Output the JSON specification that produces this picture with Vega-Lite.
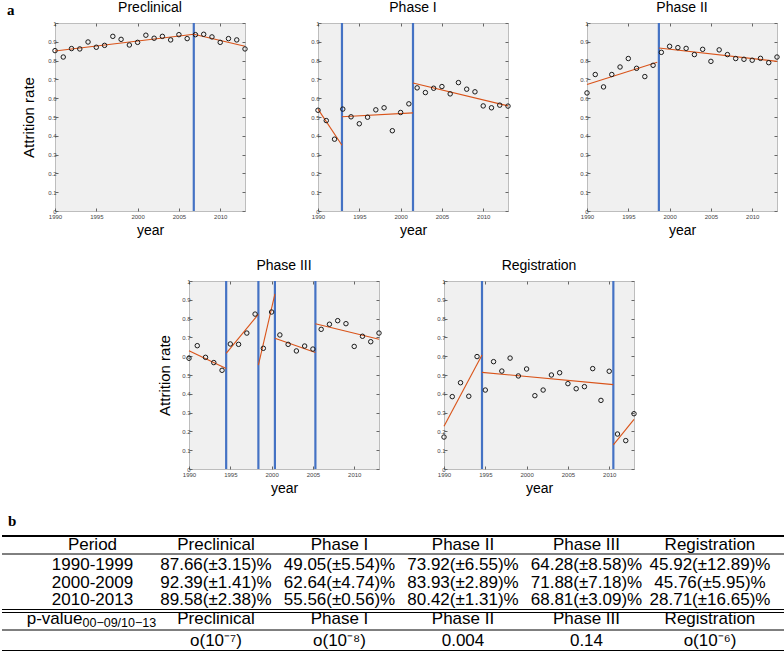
{
  "$schema": "https://vega.github.io/schema/vega-lite/v6.json",
  "padding": {"left": 1, "right": 1, "top": 0, "bottom": 1},
  "background": "white",
  "config": {
    "view": {"stroke": null},
    "font": "Liberation Sans",
    "title": {"fontSize": 14, "fontWeight": "normal", "offset": 5, "font": "Liberation Sans", "color": "#000"},
    "axis": {"labelFontSize": 6, "labelColor": "#444", "tickColor": "#666", "tickSize": -3, "domain": false, "grid": false, "titleFontWeight": "normal", "titleColor": "#000", "labelPadding": 2, "labelFlush": false, "titleFont": "Liberation Sans", "labelFont": "Liberation Sans"},
    "axisBottom": {"labelPadding": 5}
  },
  "datasets": {
    "pts": [
      {"p":"Preclinical","year":1990,"rate":0.853},{"p":"Preclinical","year":1991,"rate":0.819},{"p":"Preclinical","year":1992,"rate":0.864},{"p":"Preclinical","year":1993,"rate":0.862},{"p":"Preclinical","year":1994,"rate":0.899},{"p":"Preclinical","year":1995,"rate":0.871},{"p":"Preclinical","year":1996,"rate":0.881},{"p":"Preclinical","year":1997,"rate":0.929},{"p":"Preclinical","year":1998,"rate":0.913},{"p":"Preclinical","year":1999,"rate":0.883},{"p":"Preclinical","year":2000,"rate":0.897},{"p":"Preclinical","year":2001,"rate":0.935},{"p":"Preclinical","year":2002,"rate":0.919},{"p":"Preclinical","year":2003,"rate":0.929},{"p":"Preclinical","year":2004,"rate":0.910},{"p":"Preclinical","year":2005,"rate":0.938},{"p":"Preclinical","year":2006,"rate":0.917},{"p":"Preclinical","year":2007,"rate":0.938},{"p":"Preclinical","year":2008,"rate":0.940},{"p":"Preclinical","year":2009,"rate":0.926},{"p":"Preclinical","year":2010,"rate":0.897},{"p":"Preclinical","year":2011,"rate":0.917},{"p":"Preclinical","year":2012,"rate":0.910},{"p":"Preclinical","year":2013,"rate":0.862},
      {"p":"Phase I","year":1990,"rate":0.536},{"p":"Phase I","year":1991,"rate":0.481},{"p":"Phase I","year":1992,"rate":0.382},{"p":"Phase I","year":1993,"rate":0.542},{"p":"Phase I","year":1994,"rate":0.501},{"p":"Phase I","year":1995,"rate":0.464},{"p":"Phase I","year":1996,"rate":0.499},{"p":"Phase I","year":1997,"rate":0.538},{"p":"Phase I","year":1998,"rate":0.549},{"p":"Phase I","year":1999,"rate":0.427},{"p":"Phase I","year":2000,"rate":0.524},{"p":"Phase I","year":2001,"rate":0.570},{"p":"Phase I","year":2002,"rate":0.655},{"p":"Phase I","year":2003,"rate":0.630},{"p":"Phase I","year":2004,"rate":0.653},{"p":"Phase I","year":2005,"rate":0.662},{"p":"Phase I","year":2006,"rate":0.623},{"p":"Phase I","year":2007,"rate":0.683},{"p":"Phase I","year":2008,"rate":0.648},{"p":"Phase I","year":2009,"rate":0.634},{"p":"Phase I","year":2010,"rate":0.559},{"p":"Phase I","year":2011,"rate":0.549},{"p":"Phase I","year":2012,"rate":0.563},{"p":"Phase I","year":2013,"rate":0.558},
      {"p":"Phase II","year":1990,"rate":0.628},{"p":"Phase II","year":1991,"rate":0.726},{"p":"Phase II","year":1992,"rate":0.660},{"p":"Phase II","year":1993,"rate":0.726},{"p":"Phase II","year":1994,"rate":0.766},{"p":"Phase II","year":1995,"rate":0.811},{"p":"Phase II","year":1996,"rate":0.759},{"p":"Phase II","year":1997,"rate":0.715},{"p":"Phase II","year":1998,"rate":0.775},{"p":"Phase II","year":1999,"rate":0.844},{"p":"Phase II","year":2000,"rate":0.876},{"p":"Phase II","year":2001,"rate":0.869},{"p":"Phase II","year":2002,"rate":0.865},{"p":"Phase II","year":2003,"rate":0.832},{"p":"Phase II","year":2004,"rate":0.860},{"p":"Phase II","year":2005,"rate":0.796},{"p":"Phase II","year":2006,"rate":0.857},{"p":"Phase II","year":2007,"rate":0.832},{"p":"Phase II","year":2008,"rate":0.811},{"p":"Phase II","year":2009,"rate":0.807},{"p":"Phase II","year":2010,"rate":0.802},{"p":"Phase II","year":2011,"rate":0.812},{"p":"Phase II","year":2012,"rate":0.789},{"p":"Phase II","year":2013,"rate":0.819},
      {"p":"Phase III","year":1990,"rate":0.589},{"p":"Phase III","year":1991,"rate":0.656},{"p":"Phase III","year":1992,"rate":0.594},{"p":"Phase III","year":1993,"rate":0.566},{"p":"Phase III","year":1994,"rate":0.525},{"p":"Phase III","year":1995,"rate":0.665},{"p":"Phase III","year":1996,"rate":0.663},{"p":"Phase III","year":1997,"rate":0.723},{"p":"Phase III","year":1998,"rate":0.824},{"p":"Phase III","year":1999,"rate":0.642},{"p":"Phase III","year":2000,"rate":0.835},{"p":"Phase III","year":2001,"rate":0.713},{"p":"Phase III","year":2002,"rate":0.663},{"p":"Phase III","year":2003,"rate":0.628},{"p":"Phase III","year":2004,"rate":0.654},{"p":"Phase III","year":2005,"rate":0.638},{"p":"Phase III","year":2006,"rate":0.743},{"p":"Phase III","year":2007,"rate":0.770},{"p":"Phase III","year":2008,"rate":0.789},{"p":"Phase III","year":2009,"rate":0.773},{"p":"Phase III","year":2010,"rate":0.652},{"p":"Phase III","year":2011,"rate":0.706},{"p":"Phase III","year":2012,"rate":0.677},{"p":"Phase III","year":2013,"rate":0.723},
      {"p":"Registration","year":1990,"rate":0.170},{"p":"Registration","year":1991,"rate":0.385},{"p":"Registration","year":1992,"rate":0.459},{"p":"Registration","year":1993,"rate":0.387},{"p":"Registration","year":1994,"rate":0.598},{"p":"Registration","year":1995,"rate":0.420},{"p":"Registration","year":1996,"rate":0.571},{"p":"Registration","year":1997,"rate":0.521},{"p":"Registration","year":1998,"rate":0.590},{"p":"Registration","year":1999,"rate":0.495},{"p":"Registration","year":2000,"rate":0.532},{"p":"Registration","year":2001,"rate":0.390},{"p":"Registration","year":2002,"rate":0.420},{"p":"Registration","year":2003,"rate":0.500},{"p":"Registration","year":2004,"rate":0.512},{"p":"Registration","year":2005,"rate":0.454},{"p":"Registration","year":2006,"rate":0.427},{"p":"Registration","year":2007,"rate":0.438},{"p":"Registration","year":2008,"rate":0.534},{"p":"Registration","year":2009,"rate":0.365},{"p":"Registration","year":2010,"rate":0.520},{"p":"Registration","year":2011,"rate":0.186},{"p":"Registration","year":2012,"rate":0.151},{"p":"Registration","year":2013,"rate":0.294}
    ],
    "fits": [
      {"p":"Preclinical","seg":1,"year":1990,"rate":0.851},{"p":"Preclinical","seg":1,"year":2006.8,"rate":0.940},
      {"p":"Preclinical","seg":2,"year":2006.8,"rate":0.940},{"p":"Preclinical","seg":2,"year":2013,"rate":0.876},
      {"p":"Phase I","seg":1,"year":1990,"rate":0.542},{"p":"Phase I","seg":1,"year":1992.9,"rate":0.350},
      {"p":"Phase I","seg":2,"year":1992.9,"rate":0.501},{"p":"Phase I","seg":2,"year":2001.5,"rate":0.522},
      {"p":"Phase I","seg":3,"year":2001.5,"rate":0.681},{"p":"Phase I","seg":3,"year":2013,"rate":0.559},
      {"p":"Phase II","seg":1,"year":1990,"rate":0.673},{"p":"Phase II","seg":1,"year":1998.5,"rate":0.791},
      {"p":"Phase II","seg":2,"year":1998.7,"rate":0.867},{"p":"Phase II","seg":2,"year":2013,"rate":0.796},
      {"p":"Phase III","seg":1,"year":1990,"rate":0.629},{"p":"Phase III","seg":1,"year":1994.5,"rate":0.535},
      {"p":"Phase III","seg":2,"year":1994.5,"rate":0.615},{"p":"Phase III","seg":2,"year":1998.4,"rate":0.823},
      {"p":"Phase III","seg":3,"year":1998.4,"rate":0.553},{"p":"Phase III","seg":3,"year":2000.4,"rate":0.931},
      {"p":"Phase III","seg":4,"year":2000.4,"rate":0.695},{"p":"Phase III","seg":4,"year":2005.3,"rate":0.620},
      {"p":"Phase III","seg":5,"year":2005.3,"rate":0.773},{"p":"Phase III","seg":5,"year":2013,"rate":0.690},
      {"p":"Registration","seg":1,"year":1990,"rate":0.227},{"p":"Registration","seg":1,"year":1994.6,"rate":0.606},
      {"p":"Registration","seg":2,"year":1994.6,"rate":0.514},{"p":"Registration","seg":2,"year":2010.5,"rate":0.449},
      {"p":"Registration","seg":3,"year":2010.5,"rate":0.128},{"p":"Registration","seg":3,"year":2013,"rate":0.264}
    ],
    "brk": [
      {"p":"Preclinical","year":2006.8},
      {"p":"Phase I","year":1992.9},{"p":"Phase I","year":2001.5},
      {"p":"Phase II","year":1998.7},
      {"p":"Phase III","year":1994.5},{"p":"Phase III","year":1998.4},{"p":"Phase III","year":2000.4},{"p":"Phase III","year":2005.3},
      {"p":"Registration","year":1994.6},{"p":"Registration","year":2010.5}
    ],
    "tbl": [
      {"row":0,"col":"c0","t":"Period"},{"row":0,"col":"c1","t":"Preclinical"},{"row":0,"col":"c2","t":"Phase I"},{"row":0,"col":"c3","t":"Phase II"},{"row":0,"col":"c4","t":"Phase III"},{"row":0,"col":"c5","t":"Registration"},
      {"row":1,"col":"c0","t":"1990-1999"},{"row":1,"col":"c1","t":"87.66(±3.15)%"},{"row":1,"col":"c2","t":"49.05(±5.54)%"},{"row":1,"col":"c3","t":"73.92(±6.55)%"},{"row":1,"col":"c4","t":"64.28(±8.58)%"},{"row":1,"col":"c5","t":"45.92(±12.89)%"},
      {"row":2,"col":"c0","t":"2000-2009"},{"row":2,"col":"c1","t":"92.39(±1.41)%"},{"row":2,"col":"c2","t":"62.64(±4.74)%"},{"row":2,"col":"c3","t":"83.93(±2.89)%"},{"row":2,"col":"c4","t":"71.88(±7.18)%"},{"row":2,"col":"c5","t":"45.76(±5.95)%"},
      {"row":3,"col":"c0","t":"2010-2013"},{"row":3,"col":"c1","t":"89.58(±2.38)%"},{"row":3,"col":"c2","t":"55.56(±0.56)%"},{"row":3,"col":"c3","t":"80.42(±1.31)%"},{"row":3,"col":"c4","t":"68.81(±3.09)%"},{"row":3,"col":"c5","t":"28.71(±16.65)%"},
      {"row":4,"col":"c1","t":"Preclinical"},{"row":4,"col":"c2","t":"Phase I"},{"row":4,"col":"c3","t":"Phase II"},{"row":4,"col":"c4","t":"Phase III"},{"row":4,"col":"c5","t":"Registration"},
      {"row":5,"col":"c1","t":"o(10⁻⁷)"},{"row":5,"col":"c2","t":"o(10⁻⁸)"},{"row":5,"col":"c3","t":"0.004"},{"row":5,"col":"c4","t":"0.14"},{"row":5,"col":"c5","t":"o(10⁻⁶)"}
    ],
    "pv": [{"row":4,"col":"c0","main":"p-value","sub":"00−09/10−13"}],
    "tlines": [
      {"row":-0.5,"kind":"thick"},{"row":0.5,"kind":"thin"},{"row":3.5,"kind":"double"},{"row":4.5,"kind":"thin"},{"row":5.5,"kind":"thick"}
    ]
  },
  "spacing": 0,
  "vconcat": [
    {
      "bounds": "flush",
      "spacing": 0,
      "hconcat": [
        {"width": 53, "height": 188, "data": {"values": []}, "mark": {"type": "point"},
         "title": {"text": "a", "anchor": "start", "frame": "group", "font": "Liberation Serif", "fontWeight": "bold", "fontSize": 15, "offset": 5, "dx": 5}},
        {
          "width": 190, "height": 188, "title": "Preclinical",
          "view": {"fill": "#f0f0f0", "stroke": "#bdbdbd"},
          "resolve": {"axis": {"x": "independent", "y": "independent"}},
          "layer": [
            {"data": {"name": "brk"}, "transform": [{"filter": "datum.p == 'Preclinical'"}],
             "mark": {"type": "rule", "color": "#4472C4", "strokeWidth": 2.2},
             "encoding": {"x": {"field": "year", "type": "quantitative", "scale": {"domain": [1990, 2013], "nice": false, "zero": false}, "axis": null}}},
            {"data": {"name": "fits"}, "transform": [{"filter": "datum.p == 'Preclinical'"}],
             "mark": {"type": "line", "color": "#D95319", "strokeWidth": 1.1},
             "encoding": {
               "x": {"field": "year", "type": "quantitative", "scale": {"domain": [1990, 2013], "nice": false, "zero": false}, "axis": {"orient": "top", "values": [1990, 1995, 2000, 2005, 2010], "labels": false, "title": null}},
               "y": {"field": "rate", "type": "quantitative", "scale": {"domain": [0, 1], "nice": false}, "axis": {"orient": "right", "values": [0, 0.1, 0.2, 0.3, 0.4, 0.5, 0.6, 0.7, 0.8, 0.9, 1], "labels": false, "title": null}},
               "detail": {"field": "seg", "type": "nominal"}}},
            {"data": {"name": "pts"}, "transform": [{"filter": "datum.p == 'Preclinical'"}],
             "mark": {"type": "point", "shape": "circle", "filled": false, "color": "#1a1a1a", "strokeWidth": 1, "size": 20, "opacity": 1},
             "encoding": {
               "x": {"field": "year", "type": "quantitative", "scale": {"domain": [1990, 2013], "nice": false, "zero": false}, "axis": {"orient": "bottom", "values": [1990, 1995, 2000, 2005, 2010], "format": "d", "title": "year", "titleFontSize": 14, "titlePadding": 4}},
               "y": {"field": "rate", "type": "quantitative", "scale": {"domain": [0, 1], "nice": false}, "axis": {"orient": "left", "values": [0, 0.1, 0.2, 0.3, 0.4, 0.5, 0.6, 0.7, 0.8, 0.9, 1], "format": ".1~f", "title": "Attrition rate", "titleFontSize": 15, "titlePadding": 11}}}}
          ]
        },
        {"width": 73, "height": 188, "data": {"values": []}, "mark": {"type": "point"}},
        {
          "width": 190, "height": 188, "title": "Phase I",
          "view": {"fill": "#f0f0f0", "stroke": "#bdbdbd"},
          "resolve": {"axis": {"x": "independent", "y": "independent"}},
          "layer": [
            {"data": {"name": "brk"}, "transform": [{"filter": "datum.p == 'Phase I'"}],
             "mark": {"type": "rule", "color": "#4472C4", "strokeWidth": 2.2},
             "encoding": {"x": {"field": "year", "type": "quantitative", "scale": {"domain": [1990, 2013], "nice": false, "zero": false}, "axis": null}}},
            {"data": {"name": "fits"}, "transform": [{"filter": "datum.p == 'Phase I'"}],
             "mark": {"type": "line", "color": "#D95319", "strokeWidth": 1.1},
             "encoding": {
               "x": {"field": "year", "type": "quantitative", "scale": {"domain": [1990, 2013], "nice": false, "zero": false}, "axis": {"orient": "top", "values": [1990, 1995, 2000, 2005, 2010], "labels": false, "title": null}},
               "y": {"field": "rate", "type": "quantitative", "scale": {"domain": [0, 1], "nice": false}, "axis": {"orient": "right", "values": [0, 0.1, 0.2, 0.3, 0.4, 0.5, 0.6, 0.7, 0.8, 0.9, 1], "labels": false, "title": null}},
               "detail": {"field": "seg", "type": "nominal"}}},
            {"data": {"name": "pts"}, "transform": [{"filter": "datum.p == 'Phase I'"}],
             "mark": {"type": "point", "shape": "circle", "filled": false, "color": "#1a1a1a", "strokeWidth": 1, "size": 20, "opacity": 1},
             "encoding": {
               "x": {"field": "year", "type": "quantitative", "scale": {"domain": [1990, 2013], "nice": false, "zero": false}, "axis": {"orient": "bottom", "values": [1990, 1995, 2000, 2005, 2010], "format": "d", "title": "year", "titleFontSize": 14, "titlePadding": 4}},
               "y": {"field": "rate", "type": "quantitative", "scale": {"domain": [0, 1], "nice": false}, "axis": {"orient": "left", "values": [0, 0.1, 0.2, 0.3, 0.4, 0.5, 0.6, 0.7, 0.8, 0.9, 1], "format": ".1~f", "title": null}}}}
          ]
        },
        {"width": 79, "height": 188, "data": {"values": []}, "mark": {"type": "point"}},
        {
          "width": 190, "height": 188, "title": "Phase II",
          "view": {"fill": "#f0f0f0", "stroke": "#bdbdbd"},
          "resolve": {"axis": {"x": "independent", "y": "independent"}},
          "layer": [
            {"data": {"name": "brk"}, "transform": [{"filter": "datum.p == 'Phase II'"}],
             "mark": {"type": "rule", "color": "#4472C4", "strokeWidth": 2.2},
             "encoding": {"x": {"field": "year", "type": "quantitative", "scale": {"domain": [1990, 2013], "nice": false, "zero": false}, "axis": null}}},
            {"data": {"name": "fits"}, "transform": [{"filter": "datum.p == 'Phase II'"}],
             "mark": {"type": "line", "color": "#D95319", "strokeWidth": 1.1},
             "encoding": {
               "x": {"field": "year", "type": "quantitative", "scale": {"domain": [1990, 2013], "nice": false, "zero": false}, "axis": {"orient": "top", "values": [1990, 1995, 2000, 2005, 2010], "labels": false, "title": null}},
               "y": {"field": "rate", "type": "quantitative", "scale": {"domain": [0, 1], "nice": false}, "axis": {"orient": "right", "values": [0, 0.1, 0.2, 0.3, 0.4, 0.5, 0.6, 0.7, 0.8, 0.9, 1], "labels": false, "title": null}},
               "detail": {"field": "seg", "type": "nominal"}}},
            {"data": {"name": "pts"}, "transform": [{"filter": "datum.p == 'Phase II'"}],
             "mark": {"type": "point", "shape": "circle", "filled": false, "color": "#1a1a1a", "strokeWidth": 1, "size": 20, "opacity": 1},
             "encoding": {
               "x": {"field": "year", "type": "quantitative", "scale": {"domain": [1990, 2013], "nice": false, "zero": false}, "axis": {"orient": "bottom", "values": [1990, 1995, 2000, 2005, 2010], "format": "d", "title": "year", "titleFontSize": 14, "titlePadding": 4}},
               "y": {"field": "rate", "type": "quantitative", "scale": {"domain": [0, 1], "nice": false}, "axis": {"orient": "left", "values": [0, 0.1, 0.2, 0.3, 0.4, 0.5, 0.6, 0.7, 0.8, 0.9, 1], "format": ".1~f", "title": null}}}}
          ]
        }
      ]
    },
    {"width": 1, "height": 20, "data": {"values": []}, "mark": {"type": "point"}},
    {
      "bounds": "flush",
      "spacing": 0,
      "hconcat": [
        {"width": 187, "height": 188, "data": {"values": []}, "mark": {"type": "point"}},
        {
          "width": 190, "height": 188, "title": "Phase III",
          "view": {"fill": "#f0f0f0", "stroke": "#bdbdbd"},
          "resolve": {"axis": {"x": "independent", "y": "independent"}},
          "layer": [
            {"data": {"name": "brk"}, "transform": [{"filter": "datum.p == 'Phase III'"}],
             "mark": {"type": "rule", "color": "#4472C4", "strokeWidth": 2.2},
             "encoding": {"x": {"field": "year", "type": "quantitative", "scale": {"domain": [1990, 2013], "nice": false, "zero": false}, "axis": null}}},
            {"data": {"name": "fits"}, "transform": [{"filter": "datum.p == 'Phase III'"}],
             "mark": {"type": "line", "color": "#D95319", "strokeWidth": 1.1},
             "encoding": {
               "x": {"field": "year", "type": "quantitative", "scale": {"domain": [1990, 2013], "nice": false, "zero": false}, "axis": {"orient": "top", "values": [1990, 1995, 2000, 2005, 2010], "labels": false, "title": null}},
               "y": {"field": "rate", "type": "quantitative", "scale": {"domain": [0, 1], "nice": false}, "axis": {"orient": "right", "values": [0, 0.1, 0.2, 0.3, 0.4, 0.5, 0.6, 0.7, 0.8, 0.9, 1], "labels": false, "title": null}},
               "detail": {"field": "seg", "type": "nominal"}}},
            {"data": {"name": "pts"}, "transform": [{"filter": "datum.p == 'Phase III'"}],
             "mark": {"type": "point", "shape": "circle", "filled": false, "color": "#1a1a1a", "strokeWidth": 1, "size": 20, "opacity": 1},
             "encoding": {
               "x": {"field": "year", "type": "quantitative", "scale": {"domain": [1990, 2013], "nice": false, "zero": false}, "axis": {"orient": "bottom", "values": [1990, 1995, 2000, 2005, 2010], "format": "d", "title": "year", "titleFontSize": 14, "titlePadding": 4}},
               "y": {"field": "rate", "type": "quantitative", "scale": {"domain": [0, 1], "nice": false}, "axis": {"orient": "left", "values": [0, 0.1, 0.2, 0.3, 0.4, 0.5, 0.6, 0.7, 0.8, 0.9, 1], "format": ".1~f", "title": "Attrition rate", "titleFontSize": 15, "titlePadding": 9}}}}
          ]
        },
        {"width": 65, "height": 188, "data": {"values": []}, "mark": {"type": "point"}},
        {
          "width": 190, "height": 188, "title": "Registration",
          "view": {"fill": "#f0f0f0", "stroke": "#bdbdbd"},
          "resolve": {"axis": {"x": "independent", "y": "independent"}},
          "layer": [
            {"data": {"name": "brk"}, "transform": [{"filter": "datum.p == 'Registration'"}],
             "mark": {"type": "rule", "color": "#4472C4", "strokeWidth": 2.2},
             "encoding": {"x": {"field": "year", "type": "quantitative", "scale": {"domain": [1990, 2013], "nice": false, "zero": false}, "axis": null}}},
            {"data": {"name": "fits"}, "transform": [{"filter": "datum.p == 'Registration'"}],
             "mark": {"type": "line", "color": "#D95319", "strokeWidth": 1.1},
             "encoding": {
               "x": {"field": "year", "type": "quantitative", "scale": {"domain": [1990, 2013], "nice": false, "zero": false}, "axis": {"orient": "top", "values": [1990, 1995, 2000, 2005, 2010], "labels": false, "title": null}},
               "y": {"field": "rate", "type": "quantitative", "scale": {"domain": [0, 1], "nice": false}, "axis": {"orient": "right", "values": [0, 0.1, 0.2, 0.3, 0.4, 0.5, 0.6, 0.7, 0.8, 0.9, 1], "labels": false, "title": null}},
               "detail": {"field": "seg", "type": "nominal"}}},
            {"data": {"name": "pts"}, "transform": [{"filter": "datum.p == 'Registration'"}],
             "mark": {"type": "point", "shape": "circle", "filled": false, "color": "#1a1a1a", "strokeWidth": 1, "size": 20, "opacity": 1},
             "encoding": {
               "x": {"field": "year", "type": "quantitative", "scale": {"domain": [1990, 2013], "nice": false, "zero": false}, "axis": {"orient": "bottom", "values": [1990, 1995, 2000, 2005, 2010], "format": "d", "title": "year", "titleFontSize": 14, "titlePadding": 4}},
               "y": {"field": "rate", "type": "quantitative", "scale": {"domain": [0, 1], "nice": false}, "axis": {"orient": "left", "values": [0, 0.1, 0.2, 0.3, 0.4, 0.5, 0.6, 0.7, 0.8, 0.9, 1], "format": ".1~f", "title": null}}}}
          ]
        }
      ]
    },
    {"width": 1, "height": 18, "data": {"values": []}, "mark": {"type": "point"}},
    {
      "width": 782, "height": 115,
      "title": {"text": "b", "anchor": "start", "frame": "group", "font": "Liberation Serif", "fontWeight": "bold", "fontSize": 15, "offset": 6, "dx": 6},
      "layer": [
        {"data": {"name": "tlines"}, "transform": [{"filter": "datum.kind == 'thin'"}],
         "mark": {"type": "rule", "color": "#000", "strokeWidth": 1},
         "encoding": {"y": {"field": "row", "type": "quantitative", "scale": {"domain": [-0.5, 0, 0.5, 1, 3, 3.5, 4, 4.5, 5, 5.5], "range": [0, 9, 18, 29, 64, 75, 83, 94, 105, 115], "nice": false, "zero": false}, "axis": null}}},
        {"data": {"name": "tlines"}, "transform": [{"filter": "datum.kind == 'thick'"}],
         "mark": {"type": "rule", "color": "#000", "strokeWidth": 1.8},
         "encoding": {"y": {"field": "row", "type": "quantitative", "axis": null}}},
        {"data": {"name": "tlines"}, "transform": [{"filter": "datum.kind == 'double'"}],
         "mark": {"type": "rule", "color": "#000", "strokeWidth": 1, "yOffset": -1.5},
         "encoding": {"y": {"field": "row", "type": "quantitative", "axis": null}}},
        {"data": {"name": "tlines"}, "transform": [{"filter": "datum.kind == 'double'"}],
         "mark": {"type": "rule", "color": "#000", "strokeWidth": 1, "yOffset": 1.5},
         "encoding": {"y": {"field": "row", "type": "quantitative", "axis": null}}},
        {"data": {"name": "tbl"},
         "mark": {"type": "text", "font": "Liberation Sans", "fontSize": 17, "baseline": "middle", "align": "center", "color": "#000"},
         "encoding": {
           "x": {"field": "col", "type": "nominal", "scale": {"type": "point", "domain": ["c0", "c1", "c2", "c3", "c4", "c5"], "padding": 0.666, "align": 0.55}, "axis": null},
           "y": {"field": "row", "type": "quantitative", "axis": null},
           "text": {"field": "t", "type": "nominal"}}},
        {"data": {"name": "pv"},
         "mark": {"type": "text", "font": "Liberation Sans", "fontSize": 17, "baseline": "middle", "align": "right", "dx": -10, "color": "#000"},
         "encoding": {
           "x": {"field": "col", "type": "nominal", "axis": null},
           "y": {"field": "row", "type": "quantitative", "axis": null},
           "text": {"field": "main", "type": "nominal"}}},
        {"data": {"name": "pv"},
         "mark": {"type": "text", "font": "Liberation Sans", "fontSize": 12.5, "baseline": "middle", "align": "left", "dx": -10, "dy": 4, "color": "#000"},
         "encoding": {
           "x": {"field": "col", "type": "nominal", "axis": null},
           "y": {"field": "row", "type": "quantitative", "axis": null},
           "text": {"field": "sub", "type": "nominal"}}}
      ]
    }
  ]
}
